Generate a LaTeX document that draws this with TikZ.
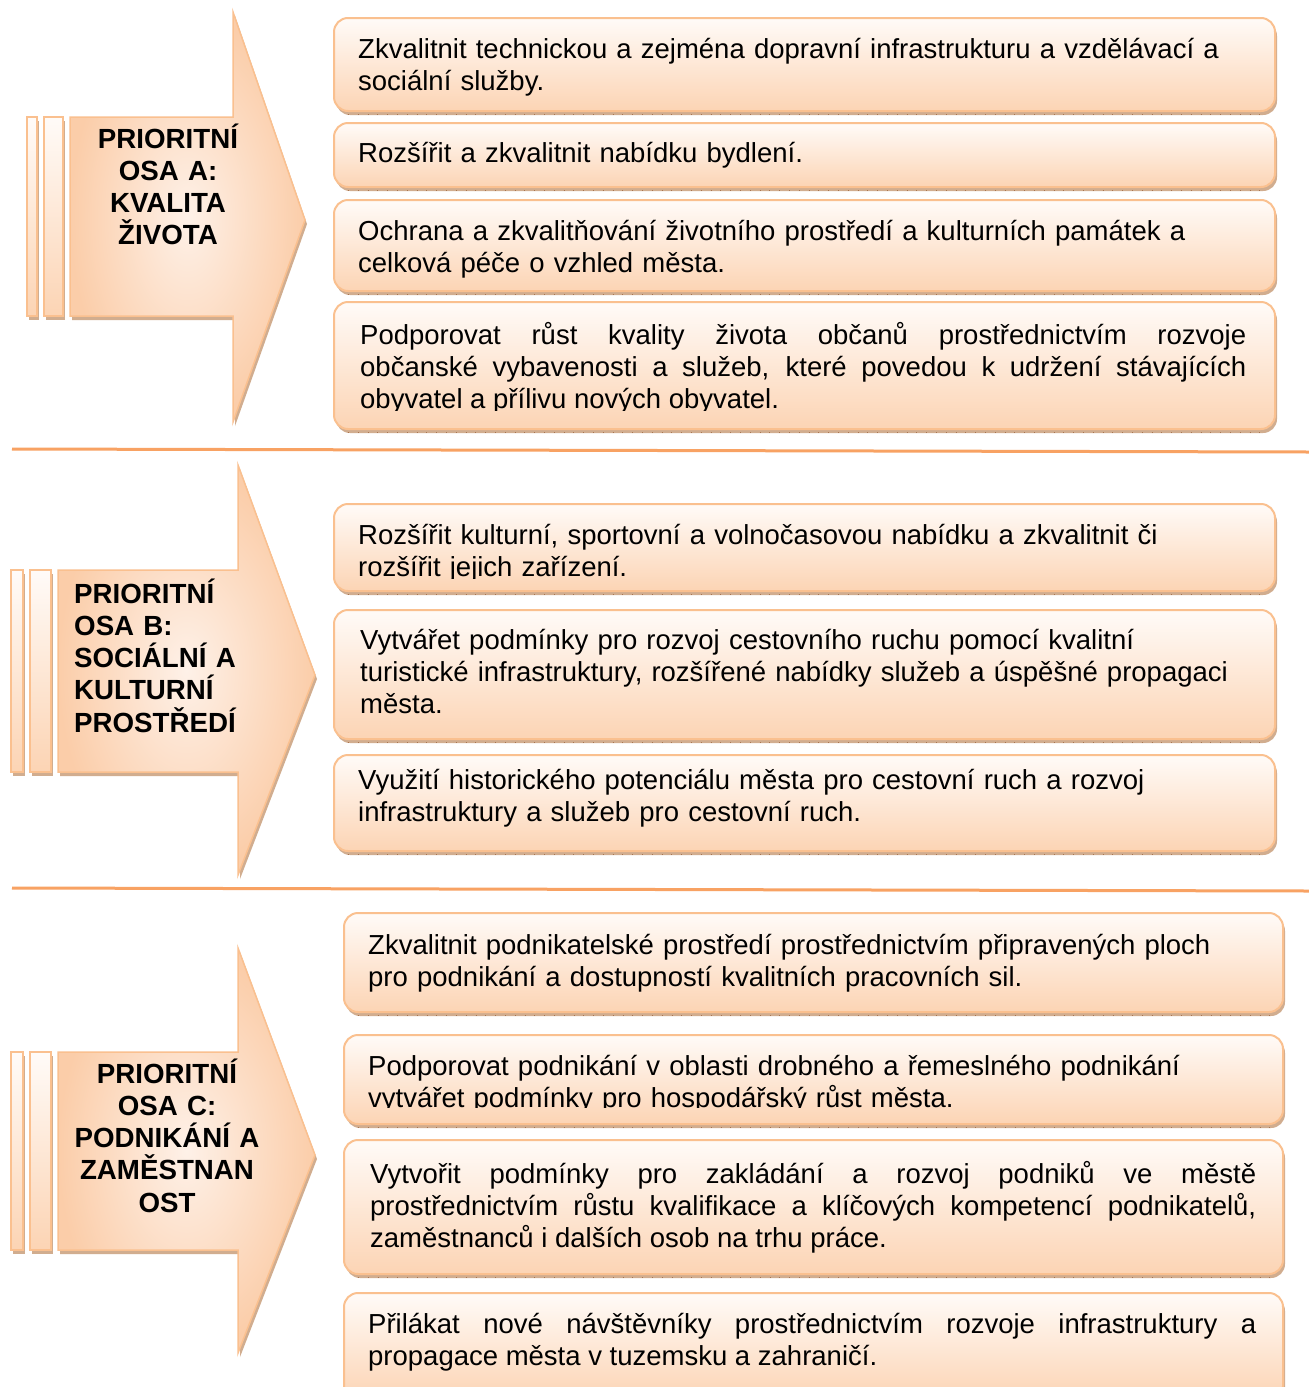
\documentclass[tikz,border=0pt]{standalone}
\usepackage{fontspec}
\setmainfont{Liberation Sans}
\definecolor{boxtop}{HTML}{FFFBF8}
\definecolor{boxbot}{HTML}{FCD4B4}
\definecolor{boxedge}{HTML}{FAC08F}
\definecolor{shadowc}{HTML}{D1AD8F}
\definecolor{tickc}{HTML}{A87550}
\definecolor{arrowdark}{HTML}{FBCDA9}
\definecolor{arrowlight}{HTML}{FEF1E8}
\definecolor{sepc}{HTML}{F8A263}
\newcommand\firststrut{\rule{0pt}{28pt}}
\newcommand\drawpbox[4]{%
  \fill[pshadow] (#1+2,#2+4) rectangle (#3+2,#4+4);
  \draw[tickc, line width=0.8pt, dash pattern=on 0.8pt off 9pt] (#1+14,#4+3) -- (#3-12,#4+3);
  \path[pbox] (#1,#2) rectangle (#3,#4);
}
\newcommand\drawstrip[4]{%
  \fill[shadowc] (#1+2,#2+4) rectangle (#3+2,#4+4);
  \path[pstrip] (#1,#2) rectangle (#3,#4);
}
\newcommand\drawparrow[8]{%
  \begin{scope}[shift={(2,4)}]
    \fill[shadowc] (#1,#2) -- (#4,#2) -- (#4,#5) -- (#7,#8) -- (#4,#6) -- (#4,#3) -- (#1,#3) -- cycle;
  \end{scope}
  \path[parrow] (#1,#2) -- (#4,#2) -- (#4,#5) -- (#7,#8) -- (#4,#6) -- (#4,#3) -- (#1,#3) -- cycle;
}
\tikzset{
  pbox/.style={rounded corners=14pt, top color=boxtop, bottom color=boxbot, draw=boxedge, line width=2pt},
  pshadow/.style={rounded corners=14pt, fill=shadowc},
  pstrip/.style={top color=boxtop, bottom color=boxbot, draw=boxedge, line width=1.5pt},
  parrow/.style={shading=radial, inner color=arrowlight, outer color=arrowdark, draw=boxedge, line width=1.5pt, line join=miter},
  txt/.style={font=\fontsize{27.5}{32.2}\selectfont, inner sep=0pt, anchor=north west, text width=#1, align=left},
  jtxt/.style={font=\fontsize{27.5}{32.2}\selectfont, inner sep=0pt, anchor=north west, text width=#1, align=justify},
  lbl/.style={font=\bfseries\fontsize{27.7}{32.2}\selectfont, inner sep=0pt, text width=#1},
  sepline/.style={draw=sepc, line width=3pt}
}
\begin{document}
\begin{tikzpicture}[x=1pt,y=-1pt]
\useasboundingbox (0,0) rectangle (1309,1387);
\fill[white] (0,0) rectangle (1309,1387);
\tolerance=10000 \hyphenpenalty=10000 \exhyphenpenalty=10000

% ---------- section A ----------
\drawstrip{27}{117}{37}{316}
\drawstrip{44}{117}{63}{316}
\drawparrow{70}{117}{316}{233}{12}{422}{305}{220}
\node[lbl=190, align=center, anchor=north] (la) at (168,148-28)
  {\firststrut PRIORITNÍ\\OSA A:\\KVALITA\\ŽIVOTA};

\drawpbox{334}{18}{1275}{111}
\node[txt=900] (a1) at (358,58-28)
  {\firststrut Zkvalitnit technickou a zejména dopravní infrastrukturu a vzdělávací a\\sociální služby.};
\drawpbox{334}{123}{1275}{187}
\node[txt=900] (a2) at (358,162-28)
  {\firststrut Rozšířit a zkvalitnit nabídku bydlení.};
\drawpbox{334}{200}{1275}{291}
\node[txt=900] (a3) at (358,240-28)
  {\firststrut Ochrana a zkvalitňování životního prostředí a kulturních památek a\\celková péče o vzhled města.};
\drawpbox{334}{302}{1275}{429}
\begin{scope}
\clip (334,302) rectangle (1275,410);
\node[jtxt=886] (a4) at (360,344-28)
  {\firststrut Podporovat růst kvality života občanů prostřednictvím rozvoje\linebreak
   občanské vybavenosti a služeb, které povedou k udržení stávajících\linebreak
   obyvatel a přílivu nových obyvatel.};
\end{scope}

\draw[sepline] (12,449) coordinate (sa1) -- (1309,452) coordinate (sa2);

% ---------- section B ----------
\drawstrip{11}{570}{23}{772}
\drawstrip{30}{570}{51}{772}
\drawparrow{58}{570}{772}{238}{465}{875}{315}{675}
\node[lbl=200, align=left, anchor=north west] (lb) at (74,603-28)
  {\firststrut PRIORITNÍ\\OSA B:\\SOCIÁLNÍ A\\KULTURNÍ\\PROSTŘEDÍ};

\drawpbox{334}{504}{1275}{591}
\begin{scope}
\clip (334,504) rectangle (1275,578);
\node[txt=900] (b1) at (358,544-28)
  {\firststrut Rozšířit kulturní, sportovní a volnočasovou nabídku a zkvalitnit či\\rozšířit jejich zařízení.};
\end{scope}
\drawpbox{334}{610}{1275}{739}
\node[txt=900] (b2) at (360,649-28)
  {\firststrut Vytvářet podmínky pro rozvoj cestovního ruchu pomocí kvalitní\\turistické infrastruktury, rozšířené nabídky služeb a úspěšné propagaci\\města.};
\drawpbox{334}{755}{1275}{851}
\node[txt=900] (b3) at (358,789-28)
  {\firststrut Využití historického potenciálu města pro cestovní ruch a rozvoj\\infrastruktury a služeb pro cestovní ruch.};

\draw[sepline] (12,888) coordinate (sb1) -- (1309,891) coordinate (sb2);

% ---------- section C ----------
\drawstrip{11}{1052}{23}{1250}
\drawstrip{30}{1052}{51}{1250}
\drawparrow{58}{1052}{1250}{238}{948}{1353}{315}{1155}
\node[lbl=200, align=center, anchor=north] (lc) at (167,1083-28)
  {\firststrut PRIORITNÍ\\OSA C:\\PODNIKÁNÍ A\\ZAMĚSTNAN\\OST};

\drawpbox{344}{913}{1283}{1012}
\node[txt=900] (c1) at (368,954-28)
  {\firststrut Zkvalitnit podnikatelské prostředí prostřednictvím připravených ploch\\pro podnikání a dostupností kvalitních pracovních sil.};
\drawpbox{344}{1035}{1283}{1124}
\begin{scope}
\clip (344,1035) rectangle (1283,1107);
\node[txt=900] (c2) at (368,1075-28)
  {\firststrut Podporovat podnikání v oblasti drobného a řemeslného podnikání\\vytvářet podmínky pro hospodářský růst města.};
\end{scope}
\drawpbox{344}{1140}{1283}{1274}
\node[jtxt=886] (c3) at (370,1183-28)
  {\firststrut Vytvořit podmínky pro zakládání a rozvoj podniků ve městě\linebreak
   prostřednictvím růstu kvalifikace a klíčových kompetencí podnikatelů,\linebreak
   zaměstnanců i dalších osob na trhu práce.};
\drawpbox{344}{1293}{1283}{1400}
\node[jtxt=888] (c4) at (368,1333-28)
  {\firststrut Přilákat nové návštěvníky prostřednictvím rozvoje infrastruktury a\linebreak
   propagace města v tuzemsku a zahraničí.};
\end{tikzpicture}
\end{document}
